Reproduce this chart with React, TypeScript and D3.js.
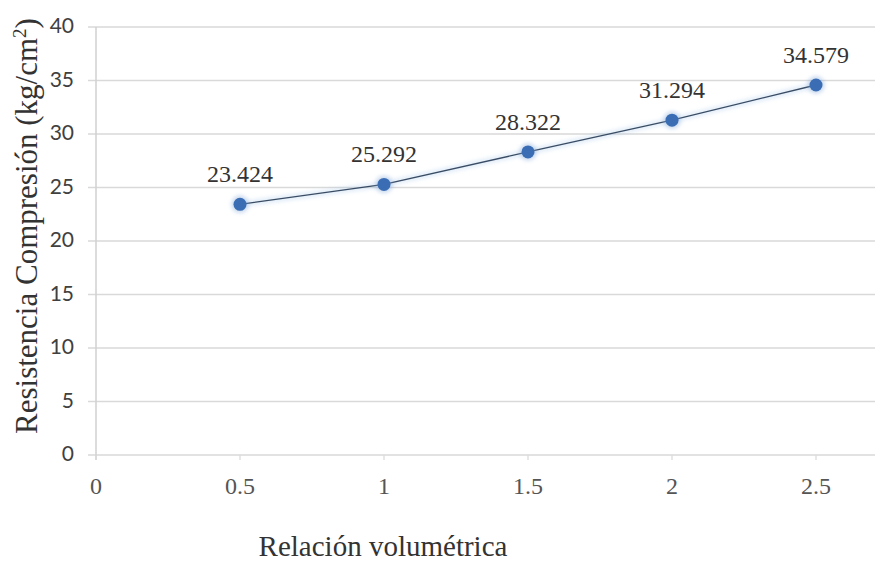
import React from "react";
import * as d3 from "d3";

const xValues = [0.5, 1, 1.5, 2, 2.5];
const yValues = [23.424, 25.292, 28.322, 31.294, 34.579];
const dataLabels = ["23.424", "25.292", "28.322", "31.294", "34.579"];
const xTicks = [0, 0.5, 1, 1.5, 2, 2.5];
const xTickLabels = ["0", "0.5", "1", "1.5", "2", "2.5"];
const yTicks = [0, 5, 10, 15, 20, 25, 30, 35, 40];
const xTitle = "Relación volumétrica";

const W = 875;
const H = 561;
const left = 96;
const right = 875;
const top = 27;
const bottom = 455;
const SERIF = "Liberation Serif, Times New Roman, DejaVu Serif, serif";

export default function App() {
  const x = d3.scaleLinear().domain([0, 2.5]).range([left, 816]);
  const y = d3.scaleLinear().domain([0, 40]).range([bottom, top]);
  const line = d3
    .line<number>()
    .x((_, i) => x(xValues[i]))
    .y((d) => y(d));
  const path = line(yValues) || "";
  return (
    <svg
      width={W}
      height={H}
      style={{ position: "absolute", left: 0, top: 0, background: "#fff" }}
    >
      <defs>
        <filter id="glow" x="-50%" y="-50%" width="200%" height="200%">
          <feGaussianBlur stdDeviation="2.2" />
        </filter>
      </defs>
      {yTicks.map((t) => (
        <g key={t}>
          <line x1={88} x2={right} y1={y(t)} y2={y(t)} stroke="#d9d9d9" strokeWidth={1.5} />
          <text
            x={74}
            y={y(t) - 1}
            dy="0.35em"
            textAnchor="end"
            style={{ fontFamily: "Lato, Open Sans, sans-serif" }}
            fontSize={21}
            fill="#404040"
          >
            {t}
          </text>
        </g>
      ))}
      <line x1={left} x2={left} y1={top} y2={bottom + 5} stroke="#d0d0d0" strokeWidth={1.5} />
      {xTicks.map((t, i) => (
        <g key={t}>
          <line x1={x(t)} x2={x(t)} y1={bottom} y2={bottom + 5} stroke="#d9d9d9" strokeWidth={1.2} />
          <text
            x={x(t)}
            y={494}
            textAnchor="middle"
            style={{ fontFamily: SERIF }}
            fontSize={24}
            fill="#555"
          >
            {xTickLabels[i]}
          </text>
        </g>
      ))}
      <path d={path} fill="none" stroke="#9ec3ea" strokeWidth={5} opacity={0.35} filter="url(#glow)" />
      <path d={path} fill="none" stroke="#3a4c63" strokeWidth={1.3} />
      {yValues.map((v, i) => (
        <g key={i}>
          <circle cx={x(xValues[i])} cy={y(v)} r={8.5} fill="#7fa6d8" opacity={0.45} filter="url(#glow)" />
          <circle cx={x(xValues[i])} cy={y(v)} r={6.5} fill="#3a6db4" />
          <text
            x={x(xValues[i])}
            y={y(v) - 22}
            textAnchor="middle"
            style={{ fontFamily: SERIF }}
            fontSize={24}
            fill="#333"
          >
            {dataLabels[i]}
          </text>
        </g>
      ))}
      <text
        transform={`translate(37, 226) rotate(-90)`}
        textAnchor="middle"
        style={{ fontFamily: SERIF }}
        fontSize={31}
        fill="#333"
      >
        Resistencia Compresión (kg/cm<tspan dy={-11} fontSize={19}>2</tspan><tspan dy={11}>)</tspan>
      </text>
      <text
        x={383}
        y={556}
        textAnchor="middle"
        style={{ fontFamily: SERIF }}
        fontSize={29}
        fill="#333"
      >
        {xTitle}
      </text>
    </svg>
  );
}
